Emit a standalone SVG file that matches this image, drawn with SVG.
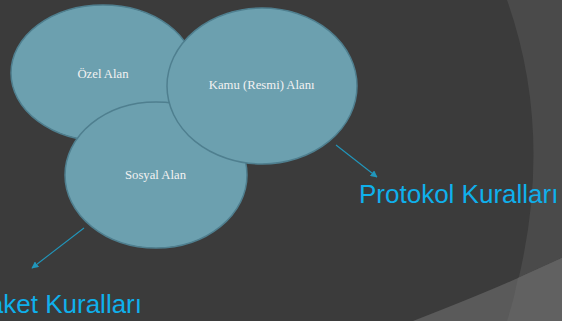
<svg xmlns="http://www.w3.org/2000/svg" width="562" height="321" viewBox="0 0 562 321">
<style>
.bg{fill:#3b3b3b}
.node{fill:#6ca0af;stroke:#4f7f8f;stroke-width:1.5}
.lbl{font-family:"Liberation Serif","Times New Roman",serif;font-size:12.7px;fill:#f2f2f2;text-anchor:middle}
.conn{stroke:#2196bb;stroke-width:1.1;fill:none;marker-end:url(#ah)}
.big{font-family:"Liberation Sans",Arial,sans-serif;font-size:26px;fill:#0fb0ec}
</style>
<defs>
<marker id="ah" viewBox="0 0 10 10" refX="9" refY="5" markerWidth="7" markerHeight="7" markerUnits="userSpaceOnUse" orient="auto">
<path d="M0,0 L10,5 L0,10 z" fill="#2196bb"/>
</marker>
</defs>
<g id="background">
<rect class="bg" x="0" y="0" width="562" height="321"/>
<path d="M507,0 Q560,150 507,321 L562,321 L562,0 z" fill="#4a4a4a"/>
<path d="M413,321 Q480,295 518,278 Q540,268 562,258 L562,321 z" fill="#5a5a5a"/>
<path d="M518,278 Q540,268 562,258 L562,321 L507,321 Q514,300 518,278 z" fill="#616161"/>
</g>
<g id="node-ozel">
<ellipse class="node" cx="103" cy="73" rx="92" ry="68"/>
<text class="lbl" x="103" y="77.5">Özel Alan</text>
</g>
<g id="node-sosyal">
<ellipse class="node" cx="156" cy="175" rx="91" ry="73"/>
<text class="lbl" x="155.5" y="179">Sosyal Alan</text>
</g>
<g id="node-kamu">
<ellipse class="node" cx="262" cy="86" rx="95" ry="78"/>
<text class="lbl" x="261.7" y="88.5">Kamu (Resmi) Alanı</text>
</g>
<g id="connectors">
<line class="conn" x1="336" y1="145" x2="377" y2="177"/>
<line class="conn" x1="84" y1="228" x2="32" y2="268"/>
</g>
<g id="label-protokol">
<text class="big" x="359" y="202.5">Protokol Kuralları</text>
</g>
<g id="label-nezaket">
<text class="big" x="142" y="312.7" text-anchor="end">aket Kuralları</text>
</g>
</svg>
